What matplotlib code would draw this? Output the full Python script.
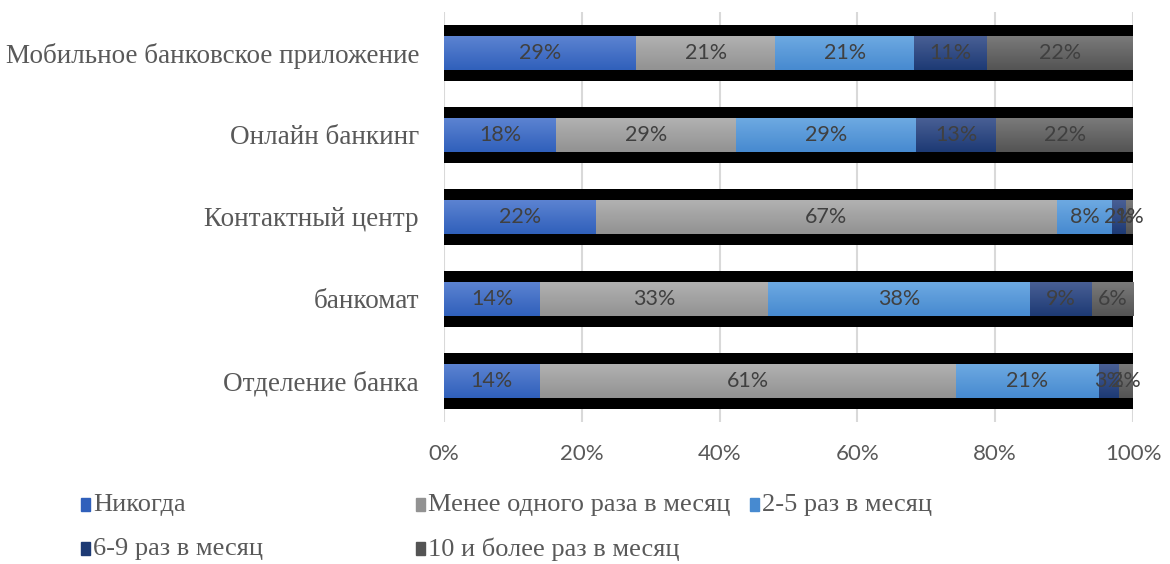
import numpy as np
import matplotlib.pyplot as plt
from matplotlib.patches import Rectangle
from matplotlib.colors import LinearSegmentedColormap

categories = ["Мобильное банковское приложение", "Онлайн банкинг",
              "Контактный центр", "банкомат", "Отделение банка"]
series = ["Никогда", "Менее одного раза в месяц", "2-5 раз в месяц",
          "6-9 раз в месяц", "10 и более раз в месяц"]
never = [29, 18, 22, 14, 14]
less_once = [21, 29, 67, 33, 61]
two_five = [21, 29, 8, 38, 21]
six_nine = [11, 13, 2, 9, 3]
ten_plus = [22, 22, 1, 6, 2]

# (top, bottom) of each segment's vertical gradient
grads = [("#5d84d2", "#3060bb"), ("#b2b2b2", "#929292"), ("#6eaae2", "#478ad0"),
         ("#4a6096", "#1d3a74"), ("#7b7b7b", "#545454")]
serif = ["Liberation Serif", "DejaVu Serif"]
sans = ["Lato", "DejaVu Sans"]

values = np.array([never, less_once, two_five, six_nine, ten_plus], dtype=float)
shares = values / values.sum(axis=0)
y = np.arange(len(categories))

fig = plt.figure(figsize=(11.7, 5.64), dpi=100)
ax = fig.add_axes([444 / 1170, 1 - 422 / 564, 689 / 1170, 410 / 564])

# black backing strip behind every bar
ax.barh(y, np.ones(len(y)), height=0.68, color="black", zorder=2)

ramp = np.linspace(0, 1, 64).reshape(-1, 1)
left = np.zeros(len(y))
for i, name in enumerate(series):
    cmap = LinearSegmentedColormap.from_list(name, grads[i])
    bars = ax.barh(y, shares[i], left=left, height=0.42, color=grads[i][1],
                   label=name, zorder=3)
    for j, b in enumerate(bars):
        x0, y0 = b.get_xy()
        im = ax.imshow(ramp, cmap=cmap, aspect="auto", zorder=3.5,
                       extent=[x0, x0 + b.get_width(), y0 + b.get_height(), y0],
                       interpolation="bilinear")
        im.set_clip_path(b)
        ax.text(left[j] + shares[i][j] / 2, y[j], f"{int(values[i][j])}%",
                ha="center", va="center", fontsize=15.5, color="#404040",
                family=sans, zorder=4)
    left += shares[i]

ax.set_xlim(0, 1)
ax.set_ylim(len(y) - 0.5, -0.5)
ax.set_xticks(np.linspace(0, 1, 6))
ax.set_xticklabels([f"{int(v)}%" for v in np.linspace(0, 100, 6)],
                   family=sans, fontsize=16, color="#595959")
ax.set_yticks(y)
ax.set_yticklabels(categories, family=serif, fontsize=19.5, color="#595959")
ax.tick_params(length=0, axis="x", pad=16)
ax.tick_params(length=0, axis="y", pad=18)
ax.grid(axis="x", color="#d9d9d9", linewidth=1.5, zorder=0)
for s in ax.spines.values():
    s.set_visible(False)

# legend, laid out in three fixed-width columns
legend_pos = [(81, 505), (416, 505), (750, 505), (81, 549), (416, 549)]
for (px, py), (name, g) in zip(legend_pos, zip(series, grads)):
    fig.patches.append(Rectangle((px / 1170, 1 - (py + 6) / 564), 9 / 1170, 13 / 564,
                                 transform=fig.transFigure, color=g[1]))
    fig.text((px + 12) / 1170, 1 - py / 564, name, family=serif, fontsize=19,
             color="#595959", va="center", ha="left")

fig.savefig("out.png", dpi=100)
